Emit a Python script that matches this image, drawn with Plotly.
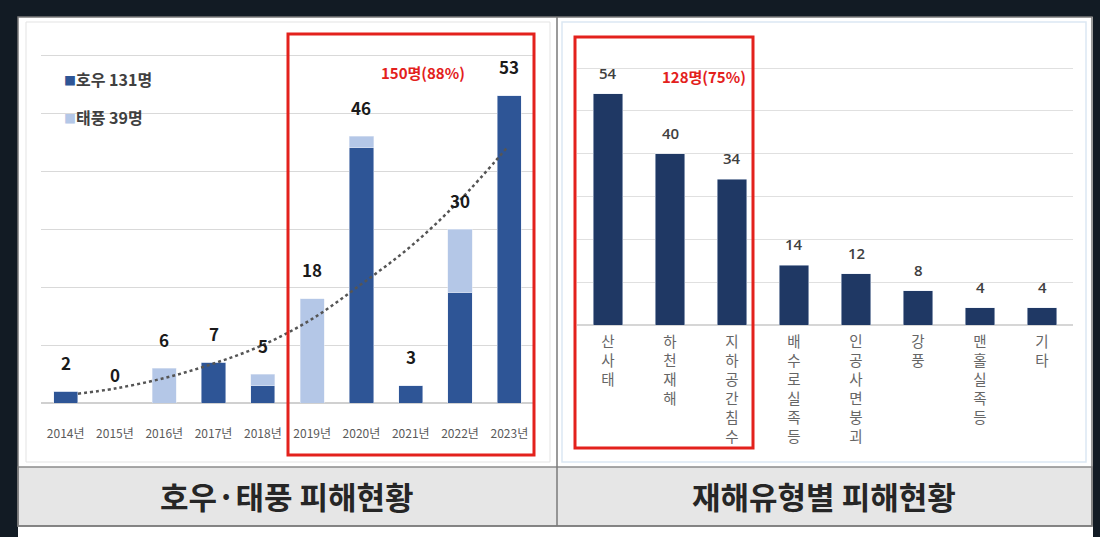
import plotly.graph_objects as go

# ---------------- data ----------------
years = [2014, 2015, 2016, 2017, 2018, 2019, 2020, 2021, 2022, 2023]
year_labels = ["2014년", "2015년", "2016년", "2017년", "2018년",
               "2019년", "2020년", "2021년", "2022년", "2023년"]
rain = [2, 0, 0, 7, 3, 0, 44, 3, 19, 53]        # 호우
typhoon = [0, 0, 6, 0, 2, 18, 2, 0, 11, 0]      # 태풍
totals = [2, 0, 6, 7, 5, 18, 46, 3, 30, 53]

# dotted trend curve
trend_x = [2014.25, 2015, 2016, 2017, 2018, 2019, 2020, 2021, 2022, 2022.95]
trend_y = [1.6, 2.5, 4.3, 6.8, 10.0, 14.5, 20.5, 27.0, 35.0, 44.0]

types = ["산사태", "하천재해", "지하공간침수", "배수로 실족 등",
         "인공사면붕괴", "강풍", "맨홀실족 등", "기타"]
type_values = [54, 40, 34, 14, 12, 8, 4, 4]

legend_labels = ["호우 131명", "태풍 39명"]
left_highlight = "150명(88%)"
right_highlight = "128명(75%)"
left_title = "호우·태풍 피해현황"
right_title = "재해유형별 피해현황"

# ---------------- style ----------------
W, H = 1100, 537
DARK = "#2e5596"
LIGHT = "#b4c7e7"
NAVY = "#1f3864"
RED = "#e3211c"
FONT = "Noto Sans CJK KR"


def X(px):
    return px / W


def Y(py):
    return 1 - py / H


fig = go.Figure()

fig.add_trace(go.Bar(x=years, y=rain, marker_color=DARK, width=0.49,
                     name=legend_labels[0], xaxis="x", yaxis="y"))
fig.add_trace(go.Bar(x=years, y=typhoon, marker_color=LIGHT, width=0.49,
                     name=legend_labels[1], xaxis="x", yaxis="y"))
fig.add_trace(go.Scatter(x=trend_x, y=trend_y, mode="lines", line_shape="spline",
                         line=dict(color="#555555", width=2.5, dash="dot"),
                         xaxis="x", yaxis="y", showlegend=False))
fig.add_trace(go.Bar(x=types, y=type_values, marker_color=NAVY, width=0.48,
                     xaxis="x2", yaxis="y2", showlegend=False))

annotations = []
for yr, t in zip(years, totals):
    annotations.append(dict(x=yr, y=t, xref="x", yref="y", text=str(t),
                            showarrow=False, yshift=29, yanchor="middle",
                            xanchor="center",
                            font=dict(family=FONT, size=17,
                                      color="#1a1a1a", weight="bold")))
for c, v in zip(types, type_values):
    annotations.append(dict(x=c, y=v, xref="x2", yref="y2", text=str(v),
                            showarrow=False, yshift=21, yanchor="middle",
                            xanchor="center",
                            font=dict(family="Open Sans", size=15,
                                      color="#404040", weight=600)))

# legend (custom)
for lbl, col, py in zip(legend_labels, [DARK, LIGHT], [79, 117]):
    annotations.append(dict(
        x=X(62), y=Y(py), xref="paper", yref="paper", xanchor="left",
        yanchor="middle", showarrow=False,
        text=f"<span style='color:{col};font-size:12px'>■</span>{lbl}",
        font=dict(family=FONT, size=16, color="#404040", weight="bold")))

annotations.append(dict(x=X(423), y=Y(60), xref="paper", yref="paper",
                        text=left_highlight, showarrow=False, xanchor="center",
                        font=dict(family=FONT, size=15, color=RED, weight="bold")))
annotations.append(dict(x=X(704), y=Y(64), xref="paper", yref="paper",
                        text=right_highlight, showarrow=False, xanchor="center",
                        font=dict(family=FONT, size=15, color=RED, weight="bold")))
annotations.append(dict(x=X(287), y=Y(495), xref="paper", yref="paper",
                        text=left_title, showarrow=False, xanchor="center",
                        yanchor="middle",
                        font=dict(family=FONT, size=31, color="#262626", weight="bold")))
annotations.append(dict(x=X(824), y=Y(495), xref="paper", yref="paper",
                        text=right_title, showarrow=False, xanchor="center",
                        yanchor="middle",
                        font=dict(family=FONT, size=31, color="#262626", weight="bold")))

shapes = [
    # white panel
    dict(type="rect", xref="paper", yref="paper", x0=X(18), x1=X(1093), y0=0, y1=Y(17),
         fillcolor="white", line_width=0, layer="below"),
    # title bar
    dict(type="rect", xref="paper", yref="paper", x0=X(18), x1=X(1092), y0=Y(526), y1=Y(467),
         fillcolor="#e6e6e6", line=dict(color="#8c8c8c", width=1.5), layer="below"),
    # inner light borders
    dict(type="rect", xref="paper", yref="paper", x0=X(26), x1=X(550), y0=Y(462), y1=Y(22),
         fillcolor="rgba(0,0,0,0)", line=dict(color="#e3e3e3", width=1), layer="below"),
    dict(type="rect", xref="paper", yref="paper", x0=X(562), x1=X(1086), y0=Y(462), y1=Y(22),
         fillcolor="rgba(0,0,0,0)", line=dict(color="#dbe8f3", width=1.5), layer="below"),
    # outer border
    dict(type="rect", xref="paper", yref="paper", x0=X(18), x1=X(1092), y0=Y(526), y1=Y(17),
         fillcolor="rgba(0,0,0,0)", line=dict(color="#7a7a7a", width=1.5), layer="below"),
    # divider
    dict(type="line", xref="paper", yref="paper", x0=X(557), x1=X(557), y0=Y(526), y1=Y(17),
         line=dict(color="#7a7a7a", width=1.5), layer="below"),
    # red boxes
    dict(type="rect", xref="paper", yref="paper", x0=X(288), x1=X(534), y0=Y(455), y1=Y(34),
         fillcolor="rgba(0,0,0,0)", line=dict(color=RED, width=3)),
    dict(type="rect", xref="paper", yref="paper", x0=X(575), x1=X(753), y0=Y(448), y1=Y(37),
         fillcolor="rgba(0,0,0,0)", line=dict(color=RED, width=3)),
]

vertical_types = ["<br>".join(ch for ch in t if ch != " ") for t in types]

fig.update_layout(
    width=W, height=H,
    margin=dict(l=0, r=0, t=0, b=0),
    paper_bgcolor="#121b24",
    plot_bgcolor="rgba(0,0,0,0)",
    barmode="stack",
    showlegend=False,
    annotations=annotations,
    shapes=shapes,
    xaxis=dict(domain=[X(41), X(534)], range=[2013.5, 2023.5],
               tickvals=years, ticktext=year_labels, showgrid=False,
               ticks="outside", ticklen=20, tickcolor="rgba(0,0,0,0)",
               tickfont=dict(family=FONT, size=12, color="#5a5a5a"),
               zeroline=False, showline=False, fixedrange=True),
    yaxis=dict(domain=[Y(403), Y(37.6)], range=[0, 63], dtick=10,
               showgrid=True, gridcolor="#d9d9d9", gridwidth=1,
               zeroline=True, zerolinecolor="#d0d0d0", zerolinewidth=1.5,
               showticklabels=False, fixedrange=True),
    xaxis2=dict(domain=[X(577), X(1073)], anchor="y2",
                tickvals=types, ticktext=vertical_types, showgrid=False,
                ticks="outside", ticklen=4, tickcolor="rgba(0,0,0,0)",
                tickfont=dict(family=FONT, size=14.5, color="#666666"),
                zeroline=False, showline=False, fixedrange=True),
    yaxis2=dict(domain=[Y(325), Y(42.5)], range=[0, 66], dtick=10, anchor="x2",
                showgrid=True, gridcolor="#e0e0e0", gridwidth=1,
                zeroline=True, zerolinecolor="#d6d6d6", zerolinewidth=1.5,
                showticklabels=False, fixedrange=True),
)

fig.write_html(
    "out.html",
    config={"displayModeBar": False},
    post_script="document.body.style.margin='0';document.body.style.overflow='hidden';",
)
